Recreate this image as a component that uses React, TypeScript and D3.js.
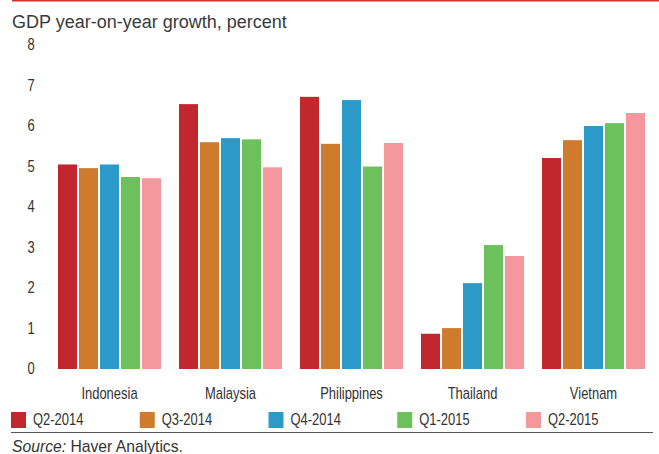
import React from "react";
import * as d3 from "d3";

const countries = ["Indonesia", "Malaysia", "Philippines", "Thailand", "Vietnam"];
const seriesNames = ["Q2-2014", "Q3-2014", "Q4-2014", "Q1-2015", "Q2-2015"];
const seriesColors = ["#c1272d", "#ce7b2d", "#2c9ac8", "#6cc15c", "#f5989d"];
const q2_2014 = [5.05, 6.54, 6.72, 0.87, 5.21];
const q3_2014 = [4.96, 5.6, 5.56, 1.01, 5.65];
const q4_2014 = [5.05, 5.7, 6.64, 2.12, 6.0];
const q1_2015 = [4.74, 5.67, 5.0, 3.06, 6.07];
const q2_2015 = [4.71, 4.98, 5.58, 2.79, 6.32];
const yTicks = [0, 1, 2, 3, 4, 5, 6, 7, 8];
const titleText = "GDP year-on-year growth, percent";

const seriesValues = [q2_2014, q3_2014, q4_2014, q1_2015, q2_2015];

const W = 659;
const H = 454;
const regular = "'Liberation Sans', Arial, sans-serif";

function Narrow({ x, y, anchor = "start", children }: { x: number; y: number; anchor?: string; children: any }) {
  return (
    <g transform={`translate(${x},${y}) scale(0.81,1)`}>
      <text
        x={0}
        y={0}
        textAnchor={anchor as any}
        dominantBaseline="central"
        fontFamily={regular}
        fontSize={16}
        fill="#333"
      >
        {children}
      </text>
    </g>
  );
}

export default function App() {
  const y = d3.scaleLinear().domain([0, 8]).range([369, 45]);
  const pIn = 18 / 121;
  const x0 = d3.scaleBand<string>().domain(countries).range([49, 654]).paddingInner(pIn).paddingOuter(pIn / 2);
  const x1 = d3
    .scaleBand<string>()
    .domain(seriesNames)
    .range([0, x0.bandwidth()])
    .paddingInner(2 / 21)
    .paddingOuter(0);
  const legendX = d3.scaleLinear().domain([0, 1]).range([11, 139.75]);

  return (
    <svg
      width={W}
      height={H}
      style={{ position: "absolute", left: 0, top: 0, background: "#fff" }}
    >
      <rect x={0} y={0} width={W} height={H} fill="#fff" />
      <line x1={12} x2={W} y1={0.75} y2={0.75} stroke="#d0312d" strokeWidth={1.5} />
      <text x={12} y={22} dominantBaseline="central" fontFamily={regular} fontSize={18} fill="#3a3a3a">
        {titleText}
      </text>
      {yTicks.map((t) => (
        <Narrow key={t} x={31} y={y(t)} anchor="middle">
          {t}
        </Narrow>
      ))}
      {countries.map((c, ci) => (
        <g key={c} transform={`translate(${x0(c)},0)`}>
          {seriesNames.map((s, si) => {
            const v = seriesValues[si][ci];
            return (
              <rect
                key={s}
                x={x1(s)}
                y={y(v)}
                width={x1.bandwidth()}
                height={y(0) - y(v)}
                fill={seriesColors[si]}
              />
            );
          })}
          <Narrow x={x0.bandwidth() / 2} y={394} anchor="middle">
            {c}
          </Narrow>
        </g>
      ))}
      {seriesNames.map((s, si) => (
        <g key={s} transform={`translate(${legendX(si)},0)`}>
          <rect x={0} y={412} width={15} height={16} fill={seriesColors[si]} />
          <Narrow x={22} y={420}>
            {s}
          </Narrow>
        </g>
      ))}
      <line x1={11} x2={653} y1={432.5} y2={432.5} stroke="#555" strokeWidth={1} />
      <text x={12} y={446} dominantBaseline="central" fontFamily={regular} fontSize={15.7} fill="#333">
        <tspan fontStyle="italic">Source:</tspan> Haver Analytics.
      </text>
    </svg>
  );
}
